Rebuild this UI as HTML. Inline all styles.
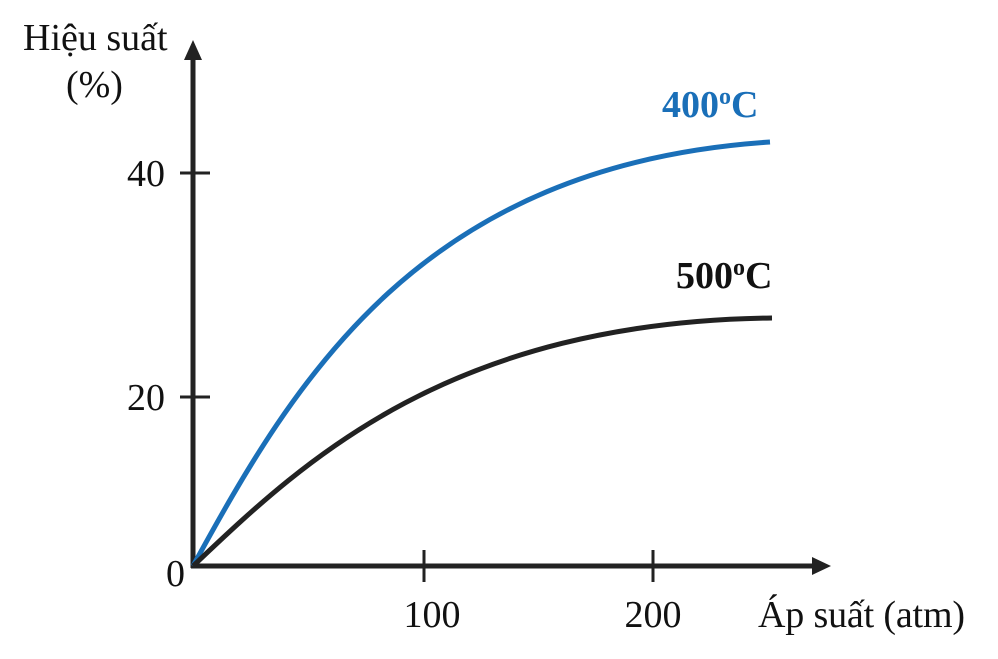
<!DOCTYPE html>
<html><head><meta charset="utf-8"><style>
html,body{margin:0;padding:0;background:#fff}
svg{display:block}
text{font-family:"Liberation Serif",serif;font-size:38px;fill:#111}
</style></head><body>
<svg width="998" height="659" viewBox="0 0 998 659" xmlns="http://www.w3.org/2000/svg">
<line x1="193" y1="568" x2="193" y2="56" stroke="#222" stroke-width="5"/>
<polygon points="193,40 184,60 202,60" fill="#222"/>
<line x1="191" y1="566" x2="815" y2="566" stroke="#222" stroke-width="5"/>
<polygon points="831,566 812,557 812,575" fill="#222"/>
<line x1="180" y1="173" x2="210" y2="173" stroke="#222" stroke-width="3"/>
<line x1="180" y1="397" x2="210" y2="397" stroke="#222" stroke-width="3"/>
<line x1="424" y1="550" x2="424" y2="582" stroke="#222" stroke-width="3"/>
<line x1="653" y1="550" x2="653" y2="582" stroke="#222" stroke-width="3"/>
<path d="M193,566 C295,380 420,165 770,142" fill="none" stroke="#1a6fb8" stroke-width="5"/>
<path d="M193,566 C300,465 445,322 772,318" fill="none" stroke="#222" stroke-width="5"/>
<text x="23" y="50">Hiệu suất</text>
<text x="66" y="97">(%)</text>
<text x="165" y="186" text-anchor="end">40</text>
<text x="165" y="410" text-anchor="end">20</text>
<text x="166" y="586">0</text>
<text x="432" y="627" text-anchor="middle">100</text>
<text x="653" y="627" text-anchor="middle">200</text>
<text x="758" y="627" textLength="207">Áp suất (atm)</text>
<text x="662" y="117" style="font-weight:bold;fill:#1a6fb8">400<tspan font-size="24" dy="-13">o</tspan><tspan dy="13">C</tspan></text>
<text x="676" y="288" style="font-weight:bold">500<tspan font-size="24" dy="-13">o</tspan><tspan dy="13">C</tspan></text>
</svg>
</body></html>
